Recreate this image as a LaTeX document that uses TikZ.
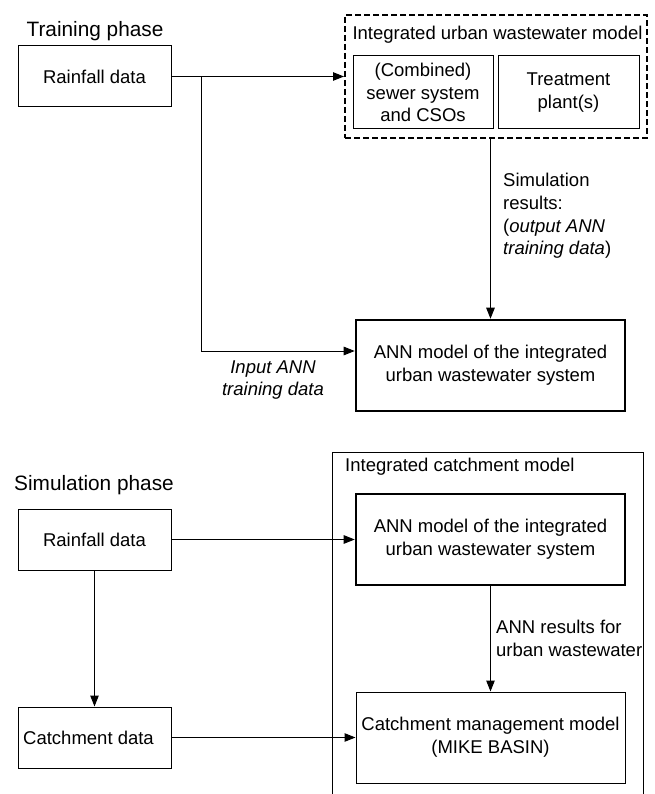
\documentclass[tikz,border=0pt]{standalone}
\usepackage{fontspec}
\setmainfont{Liberation Sans}
\usetikzlibrary{arrows.meta,calc}
\begin{document}
\begin{tikzpicture}[x=1pt,y=-1pt,
  every node/.style={font=\fontsize{18.5}{22.7}\selectfont},
  box/.style={draw,line width=1pt,inner sep=0pt,align=center},
  thickbox/.style={box,line width=2.6pt},
  dbox/.style={draw,line width=2pt,dash pattern=on 6pt off 3pt,inner sep=0pt},
  arr/.style={line width=1pt,-{Triangle[length=11pt,width=8.5pt]}},
  phase/.style={font=\fontsize{20.8}{25}\selectfont,inner sep=0pt},
  lbl/.style={align=left,inner sep=0pt}]
\useasboundingbox (0,0) rectangle (654,794);

% ---------- Training phase ----------
\node[phase] (tp) at (95,31) {Training phase};
\node[box,minimum width=153pt,minimum height=61pt] (rain1) at (94.5,76.5) {Rainfall data};
\node[dbox,minimum width=302pt,minimum height=123pt] (uwm) at (496,76.5) {};
\node[inner sep=0pt] (uwmt) at (497.5,35) {Integrated urban wastewater model};
\node[box,minimum width=140pt,minimum height=73pt] (sewer) at (423,92.5) {(Combined)\\sewer system\\and CSOs};
\node[box,minimum width=141pt,minimum height=73pt] (treat) at (568.5,92.5) {Treatment\\plant(s)};
\node[thickbox,minimum width=269pt,minimum height=91pt] (ann1) at (490.5,365.5) {ANN model of the integrated\\urban wastewater system};

\coordinate (b1) at (201,76.5);
\coordinate (b2) at (201,351);
\draw[arr] (rain1.east) -- (uwm.west);
\draw[arr] (b1) -- (b2) -- (b2 -| ann1.west);
\draw[arr] (ann1.north |- uwm.south) -- (ann1.north);

\node[lbl,anchor=west] (simres) at (503,216) {Simulation\\results:\\(\textit{output ANN}\\\textit{training data})};
\node[align=center,inner sep=0pt] (inann) at (273,380) {\textit{Input ANN}\\\textit{training data}};

% ---------- Simulation phase ----------
\node[phase] (sp) at (94,485) {Simulation phase};
\draw[line width=1pt] (332,796) |- (643,452) -- (643,796);
\node[inner sep=0pt,anchor=west] (icmt) at (345,467) {Integrated catchment model};
\node[box,minimum width=153pt,minimum height=61pt] (rain2) at (94.5,539.5) {Rainfall data};
\node[box,minimum width=153pt,minimum height=61pt] (catch) at (94.5,737.5) {Catchment data\hspace*{12pt}};
\node[thickbox,minimum width=269pt,minimum height=91pt] (ann2) at (490.5,539.5) {ANN model of the integrated\\urban wastewater system};
\node[box,minimum width=269pt,minimum height=91pt] (cmm) at (490.5,737.5) {Catchment management model\\(MIKE BASIN)};

\draw[arr] (rain2.east) -- (ann2.west);
\draw[arr] (catch.east) -- (cmm.west);
\draw[arr] (rain2.south) -- (catch.north);
\draw[arr] (ann2.south) -- (cmm.north);

\node[lbl,anchor=west] (annres) at (496,638.5) {ANN results for\\urban wastewater};
\end{tikzpicture}
\end{document}
